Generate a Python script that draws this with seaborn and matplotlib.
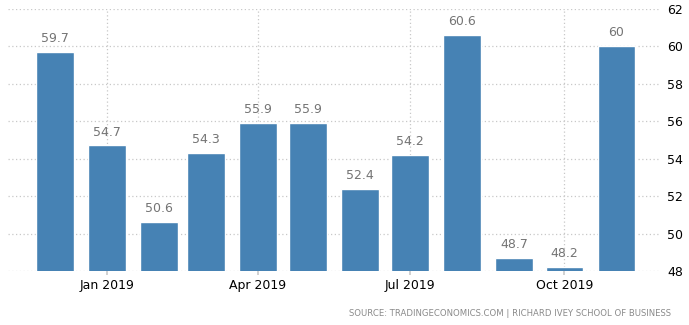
import matplotlib
matplotlib.use("Agg")
import matplotlib.pyplot as plt
import matplotlib.dates as mdates
import seaborn as sns
import pandas as pd
import numpy as np

months = ["2018-12-01", "2019-01-01", "2019-02-01", "2019-03-01", "2019-04-01", "2019-05-01",
          "2019-06-01", "2019-07-01", "2019-08-01", "2019-09-01", "2019-10-01", "2019-11-01"]
values = [59.7, 54.7, 50.6, 54.3, 55.9, 55.9, 52.4, 54.2, 60.6, 48.7, 48.2, 60]
labels = ["59.7", "54.7", "50.6", "54.3", "55.9", "55.9", "52.4", "54.2", "60.6", "48.7", "48.2", "60"]
tick_dates = ["2019-01-01", "2019-04-01", "2019-07-01", "2019-10-01"]
tick_labels = ["Jan 2019", "Apr 2019", "Jul 2019", "Oct 2019"]
y_ticks = [48, 50, 52, 54, 56, 58, 60, 62]

sns.set_theme(style="white")
plt.rcParams["font.family"] = ["DejaVu Sans"]

df = pd.DataFrame({"date": mdates.date2num(pd.to_datetime(months)), "value": values})

fig = plt.figure(figsize=(6.89, 3.25), dpi=100)
ax = fig.add_axes([8/689, 1-271/325, (660-8)/689, (271-8.7)/325])

sns.barplot(data=df, x="date", y="value", native_scale=True, color="#4682B4",
            saturation=1, width=0.8, ax=ax, zorder=3)

ax.set_ylim(48, 62)
ax.set_xlim(mdates.date2num(pd.Timestamp("2018-11-03")), mdates.date2num(pd.Timestamp("2019-11-27")))

ax.yaxis.tick_right()
ax.set_yticks(y_ticks)
ax.set_yticklabels([str(t) for t in y_ticks], fontsize=9, color="black")
ax.tick_params(axis="y", length=0, pad=5)

tpos = mdates.date2num(pd.to_datetime(tick_dates))
ax.set_xticks(tpos)
ax.set_xticklabels(tick_labels, fontsize=9, color="black")
ax.tick_params(axis="x", length=3, color="#cccccc", pad=3, bottom=True)

ax.set_xlabel("")
ax.set_ylabel("")
for s in ax.spines.values():
    s.set_visible(False)

ax.grid(True, axis="both", linestyle=(0, (1, 2)), color="#c8c8c8", linewidth=0.9, zorder=0)
ax.set_axisbelow(True)

for x, v, lab in zip(df["date"], values, labels):
    ax.annotate(lab, (x, v), xytext=(0, 5), textcoords="offset points",
                ha="center", va="bottom", fontsize=9, color="#747474")

fig.text(671/689, 1-314/325, "SOURCE: TRADINGECONOMICS.COM | RICHARD IVEY SCHOOL OF BUSINESS",
         ha="right", va="center", fontsize=6.1, color="#8a8a8a")

fig.savefig("out.png", dpi=100)
